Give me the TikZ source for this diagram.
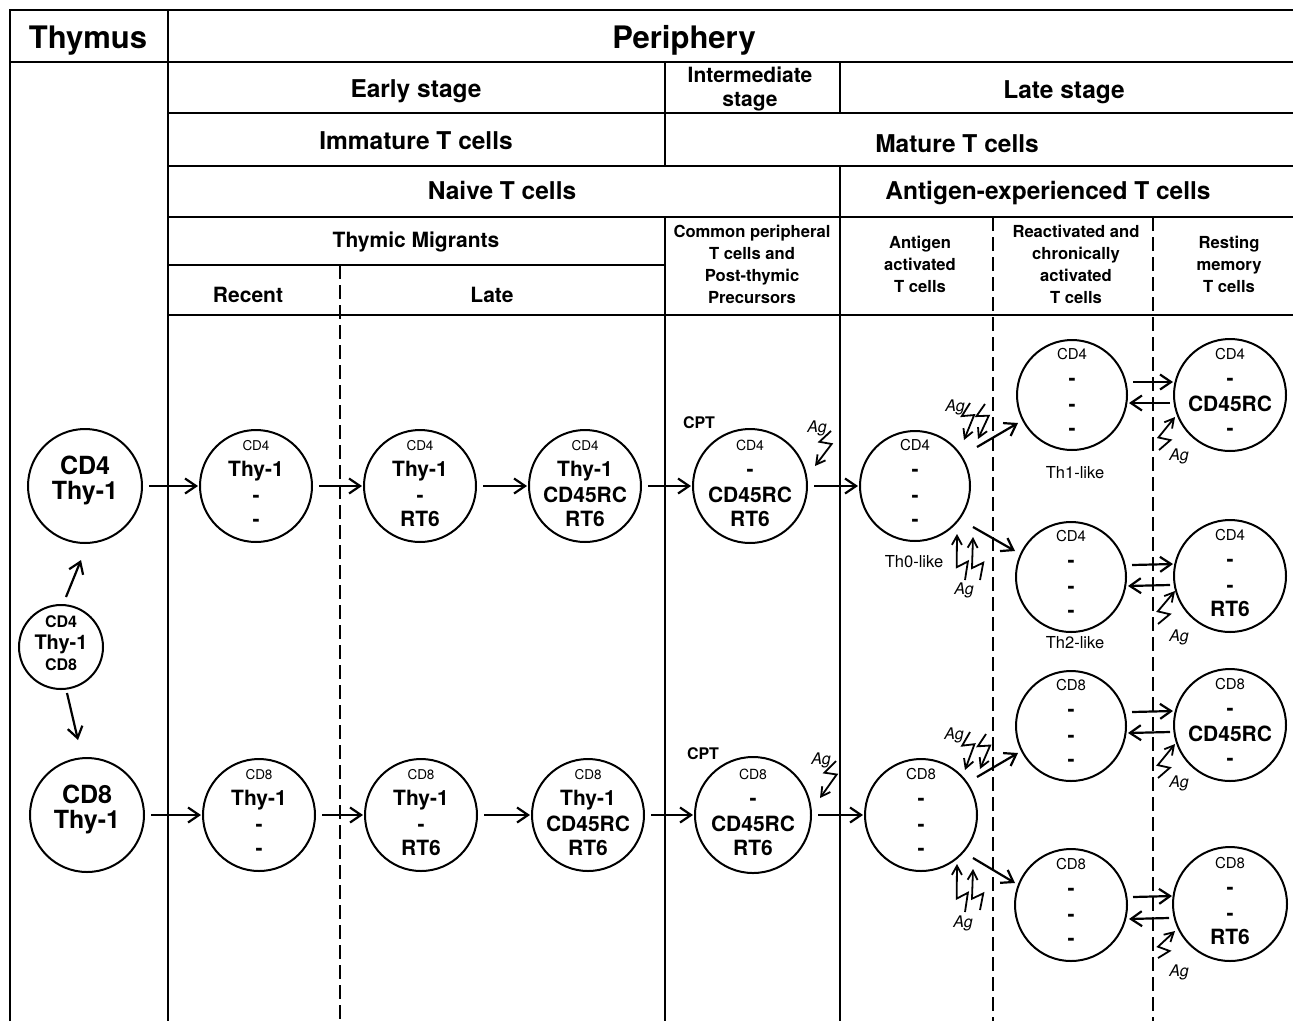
\documentclass[tikz,border=0pt]{standalone}
\usepackage{fontspec}
\setmainfont{TeX Gyre Heros}
\usetikzlibrary{arrows.meta,calc}
\newcommand\myfs[1]{\fontsize{#1}{#1}\selectfont}
\tikzset{
 tline/.style={line width=2.2pt},
 dline/.style={line width=2pt, dash pattern=on 14pt off 6pt},
 cell/.style={circle, draw, line width=2pt, inner sep=0pt},
 lab/.style={anchor=base, inner sep=0pt},
 blab/.style={anchor=base, inner sep=0pt, font=\myfs{21}\bfseries},
 arr/.style={line width=2.2pt, -{Straight Barb[length=11pt,width=15pt,line width=2.2pt]}},
 bolt/.style={line width=1.8pt, line join=miter, -{Straight Barb[length=9pt,width=10pt,line width=1.8pt]}},
 hA/.style={anchor=base, inner sep=0pt, font=\myfs{31}\bfseries},
 hB/.style={anchor=base, inner sep=0pt, font=\myfs{24.5}\bfseries},
 hC/.style={anchor=base, inner sep=0pt, font=\myfs{21}\bfseries},
 hD/.style={anchor=base, inner sep=0pt, font=\myfs{16.6}\bfseries},
 ag/.style={anchor=center, inner sep=0pt, font=\myfs{16}\itshape},
 sublab/.style={anchor=base, inner sep=0pt, font=\myfs{16.5}},
}
\newcommand\cellnode[9]{%
 \node[cell, minimum size=#4pt] (#1) at (#2,#3) {};
 \node[lab, font=\myfs{#5}] (#1-1) at ($(#1)+(0,-36)$) {#6};
 \node[blab] (#1-2) at ($(#1)+(0,-10)$) {#7};
 \node[blab] (#1-3) at ($(#1)+(0,16)$) {#8};
 \node[blab] (#1-4) at ($(#1)+(0,40)$) {#9};
}
\newcommand\zap[3]{%
 \coordinate (#1t) at #2;
 \coordinate (#1h) at #3;
 \draw[bolt] (#1t) -- ($(#1t)!0.38!(#1h)!6pt!-90:(#1h)$) -- ($(#1t)!0.3!(#1h)!6pt!90:(#1h)$) -- (#1h);
}
\begin{document}
\begin{tikzpicture}[x=1pt,y=-1pt]
\useasboundingbox (0,0) rectangle (1293,1021);
% table
\draw[tline] (10,1021) -- (10,10) -- (1293,10);
\draw[tline] (10,62) -- (1293,62);
\draw[tline] (168,10) -- (168,1021);
\draw[tline] (168,113) -- (1293,113);
\draw[tline] (168,166) -- (1293,166);
\draw[tline] (168,217) -- (1293,217);
\draw[tline] (168,265) -- (665,265);
\draw[tline] (168,315) -- (1293,315);
\draw[tline] (665,62) -- (665,166);
\draw[tline] (665,217) -- (665,1021);
\draw[tline] (840,62) -- (840,113);
\draw[tline] (840,166) -- (840,1021);
\draw[dline] (340,265) -- (340,1021);
\draw[dline] (993,217) -- (993,1021);
\draw[dline] (1153,217) -- (1153,1021);
% headers
\node[hA] (hthy) at (88,48) {Thymus};
\node[hA] (hper) at (684,48) {Periphery};
\node[hB] (hes) at (416,97) {Early stage};
\node[hC] (hint1) at (750,82) {Intermediate};
\node[hC] (hint2) at (750,106) {stage};
\node[hB] (hls) at (1064,98) {Late stage};
\node[hB] (himm) at (416,149) {Immature T cells};
\node[hB] (hmat) at (957,152) {Mature T cells};
\node[hB] (hnai) at (502,199) {Naive T cells};
\node[hB] (hae) at (1048,199) {Antigen-experienced T cells};
\node[hC] (htm) at (416,247) {Thymic Migrants};
\node[hC] (hrec) at (248,302) {Recent};
\node[hC] (hlate) at (492,302) {Late};
\node[hD] (hcp1) at (752,237) {Common peripheral};
\node[hD] (hcp2) at (752,259) {T cells and};
\node[hD] (hcp3) at (752,281) {Post-thymic};
\node[hD] (hcp4) at (752,303) {Precursors};
\node[hD] (haa1) at (920,248) {Antigen};
\node[hD] (haa2) at (920,270) {activated};
\node[hD] (haa3) at (920,292) {T cells};
\node[hD] (hra1) at (1076,237) {Reactivated and};
\node[hD] (hra2) at (1076,259) {chronically};
\node[hD] (hra3) at (1076,281) {activated};
\node[hD] (hra4) at (1076,303) {T cells};
\node[hD] (hrm1) at (1229,248) {Resting};
\node[hD] (hrm2) at (1229,270) {memory};
\node[hD] (hrm3) at (1229,292) {T cells};
% thymus cells
\node[cell, minimum size=114pt] (t4) at (85,486) {};
\node[lab, font=\myfs{25}\bfseries] (t4-1) at ($(t4)+(0,-12)$) {CD4};
\node[lab, font=\myfs{25}\bfseries] (t4-2) at ($(t4)+(0,13)$) {Thy-1};
\node[cell, minimum size=114pt] (t8) at (87,815) {};
\node[lab, font=\myfs{25}\bfseries] (t8-1) at ($(t8)+(0,-12)$) {CD8};
\node[lab, font=\myfs{25}\bfseries] (t8-2) at ($(t8)+(0,13)$) {Thy-1};
\node[cell, minimum size=84pt] (dp) at (61,647) {};
\node[lab, font=\myfs{16}\bfseries] (dp-1) at ($(dp)+(0,-20)$) {CD4};
\node[lab, font=\myfs{20}\bfseries] (dp-2) at ($(dp)+(0,2)$) {Thy-1};
\node[lab, font=\myfs{16}\bfseries] (dp-3) at ($(dp)+(0,23)$) {CD8};
% CD4 row
\cellnode{r4}{256}{486}{112}{13.5}{CD4}{Thy-1}{-}{-}
\cellnode{la4}{420}{486}{112}{13.5}{CD4}{Thy-1}{-}{RT6}
\cellnode{lb4}{585}{486}{112}{13.5}{CD4}{Thy-1}{CD45RC}{RT6}
\cellnode{c4}{750}{486}{114}{14}{CD4}{-}{CD45RC}{RT6}
\cellnode{a4}{915}{486}{110}{15}{CD4}{-}{-}{-}
\cellnode{th1}{1072}{395}{110}{15}{CD4}{-}{-}{-}
\cellnode{m1}{1230}{395}{112}{15}{CD4}{-}{CD45RC}{-}
\cellnode{th2}{1071}{577}{110}{15}{CD4}{-}{-}{-}
\cellnode{m2}{1230}{576}{112}{15}{CD4}{-}{-}{RT6}
% CD8 row
\cellnode{r8}{259}{815}{112}{13.5}{CD8}{Thy-1}{-}{-}
\cellnode{la8}{421}{815}{112}{13.5}{CD8}{Thy-1}{-}{RT6}
\cellnode{lb8}{588}{815}{112}{13.5}{CD8}{Thy-1}{CD45RC}{RT6}
\cellnode{c8}{753}{815}{116}{14}{CD8}{-}{CD45RC}{RT6}
\cellnode{a8}{921}{815}{112}{15}{CD8}{-}{-}{-}
\cellnode{u8}{1071}{726}{110}{15}{CD8}{-}{-}{-}
\cellnode{m3}{1230}{725}{112}{15}{CD8}{-}{CD45RC}{-}
\cellnode{d8}{1071}{905}{112}{15}{CD8}{-}{-}{-}
\cellnode{m4}{1230}{904}{114}{15}{CD8}{-}{-}{RT6}
% labels
\node[sublab] (l1) at (1075,478) {Th1-like};
\node[sublab] (l0) at (914,567) {Th0-like};
\node[sublab] (l2) at (1075,648) {Th2-like};
\node[lab, font=\myfs{16}\bfseries] (cpt4) at (699,428) {CPT};
\node[lab, font=\myfs{16}\bfseries] (cpt8) at (703,759) {CPT};
% row arrows
\foreach \a/\b in {t4/r4, r4/la4, la4/lb4, lb4/c4, c4/a4, t8/r8, r8/la8, la8/lb8, lb8/c8, c8/a8}
  \draw[arr, shorten <=6pt, shorten >=1pt] (\a) -- (\b);
\draw[arr] ($(dp)+(5,-50)$) -- ($(t4)+(-4,74)$);
\draw[arr] ($(dp)+(6,46)$) -- ($(t8)+(-9,-75)$);
% diverging arrows
\draw[arr] ($(a4)+(62,-39)$) -- ($(th1)+(-54,28)$);
\draw[arr] ($(a4)+(58,41)$) -- ($(th2)+(-56,-26)$);
\draw[arr] ($(a8)+(56,-38)$) -- ($(u8)+(-53,27)$);
\draw[arr] ($(a8)+(52,43)$) -- ($(d8)+(-56,-22)$);
% memory arrows
\draw[arr] ([xshift=5pt,yshift=13pt]th1.east) -- ([yshift=13pt]m1.west);
\draw[arr] ([xshift=-3pt,yshift=-8pt]m1.west) -- ([xshift=1pt,yshift=-8pt]th1.east);
\draw[arr] ([xshift=5pt,yshift=12pt]th2.east) -- ([yshift=12pt]m2.west);
\draw[arr] ([xshift=-3pt,yshift=-9pt]m2.west) -- ([xshift=1pt,yshift=-9pt]th2.east);
\draw[arr] ([xshift=5pt,yshift=14pt]u8.east) -- ([yshift=14pt]m3.west);
\draw[arr] ([xshift=-3pt,yshift=-7pt]m3.west) -- ([xshift=1pt,yshift=-7pt]u8.east);
\draw[arr] ([xshift=5pt,yshift=8pt]d8.east) -- ([yshift=8pt]m4.west);
\draw[arr] ([xshift=-3pt,yshift=-14pt]m4.west) -- ([xshift=1pt,yshift=-14pt]d8.east);
% antigen bolts
\zap{za}{(831,431)}{(815,466)}
\zap{zb}{(836,761)}{(820,798)}
\zap{zc}{(970,403)}{(964,440)}
\zap{zd}{(985,404)}{(978,439)}
\zap{ze}{(965,580)}{(957,534)}
\zap{zf}{(980,580)}{(973,537)}
\zap{zg}{(1159,450)}{(1175,417)}
\zap{zh}{(1158,624)}{(1175,591)}
\zap{zi}{(970,732)}{(965,770)}
\zap{zj}{(986,734)}{(980,769)}
\zap{zk}{(965,912)}{(957,864)}
\zap{zl}{(980,910)}{(973,869)}
\zap{zm}{(1158,778)}{(1175,744)}
\zap{zn}{(1158,958)}{(1175,931)}
\node[ag] (ag1) at (817,428) {Ag};
\node[ag] (ag2) at (821,760) {Ag};
\node[ag] (ag3) at (955,407) {Ag};
\node[ag] (ag4) at (964,590) {Ag};
\node[ag] (ag5) at (1179,456) {Ag};
\node[ag] (ag6) at (1179,637) {Ag};
\node[ag] (ag7) at (954,735) {Ag};
\node[ag] (ag8) at (963,923) {Ag};
\node[ag] (ag9) at (1179,783) {Ag};
\node[ag] (ag10) at (1179,972) {Ag};
\end{tikzpicture}
\end{document}
